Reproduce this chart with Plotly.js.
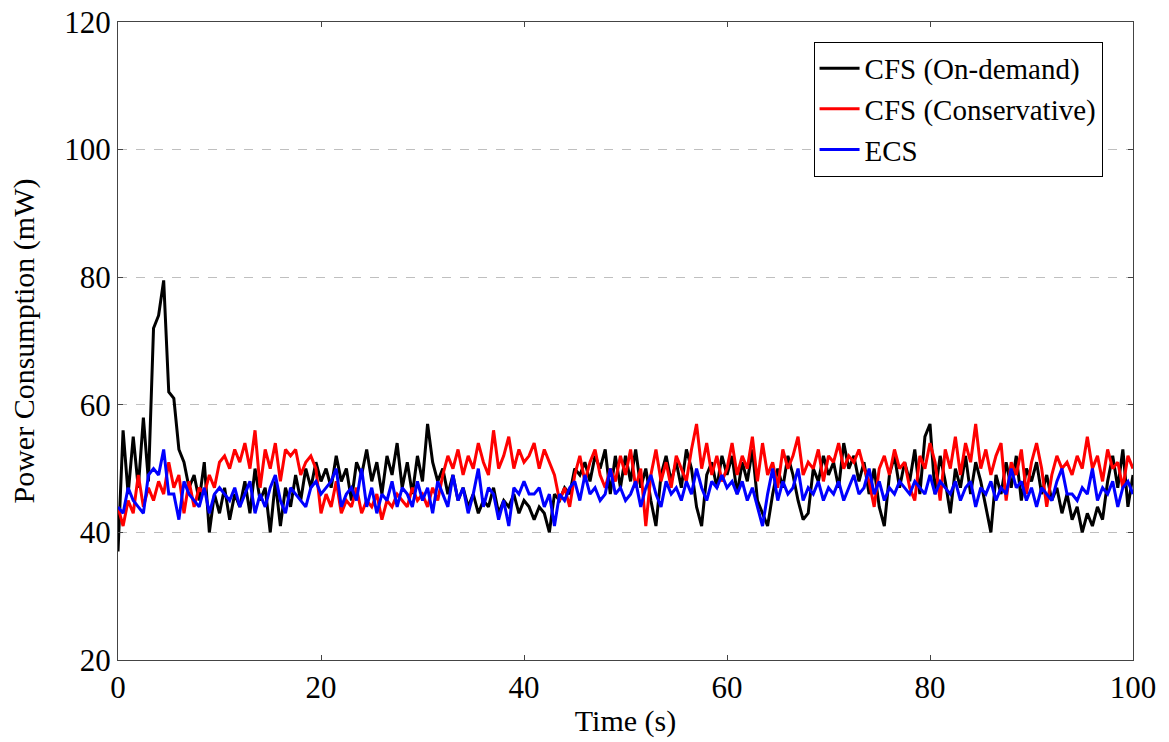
<!DOCTYPE html>
<html>
<head>
<meta charset="utf-8">
<script src="https://cdn.plot.ly/plotly-3.0.1.min.js"></script>
<style>
html,body{margin:0;padding:0;background:#fff;}
#chart{width:1169px;height:742px;}
</style>
</head>
<body>
<div id="chart"></div>
<script>
const timeStep = 0.5; // seconds between samples

const onDemand = [
37,56,46,55,47,58,48,72,74,79.5,62,61,53,51,47,49,45,51,40,46,
43,47,42,46,44,48,43,50,45,47,40,48,41,47,44,49,45,50,47,51,48,
50,47,52,48,50,45,51,49,53,48,51,46,52,49,54,47,51,46,52,48,
57,51,48,50,46,49,45,47,44,46,43,45,44,47,43,45,44,46,43,45,
44,42,44,43,40,46,45,47,46,50,49,51,48,52,50,53,46,52,47,52,
48,53,47,50,45,41,49,52,48,51,47,53,50,44,41,49,51,47,52,49,
52,46,51,48,53,45,43,41,46,50,47,52,49,45,42,43,50,48,52,49,
51,47,54,50,52,48,51,46,50,44,41,49,52,47,51,48,53,46,55,57,
46,52,48,43,50,47,52,46,51,48,44,40,49,46,51,47,52,45,50,48,
51,46,49,45,47,43,46,42,44,40,43,41,44,42,48,52,47,53,44,49
];

const conservative = [
44,41,45,43,49,44,47,45,48,46,51,47,49,43,48,44,47,46,49,47,
51,52,50,53,51,54,50,56,47,53,50,54,48,53,52,53,49,51,52,50,43,
46,44,48,43,45,44,47,43,45,44,46,42,45,44,46,45,44,47,45,46,
44,47,45,49,52,50,53,49,52,50,54,51,49,56,50,52,55,50,53,51,
52,54,50,53,51,49,45,47,44,49,52,48,51,53,49,47,50,48,52,49,
53,47,50,41,49,53,48,51,47,52,50,48,53,57,50,54,49,52,48,50,
54,49,52,50,55,48,54,49,51,47,53,50,52,55,49,51,50,53,48,52,
51,54,50,52,51,53,50,48,44,50,52,49,53,50,51,47,45,52,50,54,
51,45,53,50,55,49,54,51,57,50,53,49,52,54,45,51,49,53,46,51,
54,50,44,49,52,50,51,49,52,50,55,50,52,48,53,50,51,47,52,50
];

const ecs = [
44,43,47,45,44,43,49,50,49,53,46,46,42,48,46,45,44,47,43,46,
47,46,45,47,44,46,48,43,46,44,47,49,45,43,47,46,45,44,47,48,46,
47,48,50,44,46,47,45,50,44,47,43,46,45,48,44,47,46,44,48,45,
47,43,48,46,44,49,45,47,43,46,50,44,47,46,42,45,41,47,46,48,
46,46,47,44,46,41,46,45,47,48,45,49,46,47,45,46,50,46,47,45,
46,48,44,47,49,46,44,48,46,47,45,48,46,50,47,45,48,47,49,47,
48,46,48,45,47,44,41,46,50,45,48,46,47,50,45,47,46,48,45,47,
46,48,45,47,49,46,47,50,46,48,45,47,46,48,47,46,48,47,46,49,
46,48,47,46,48,45,47,48,44,47,46,48,45,47,46,50,47,48,45,47,
44,47,46,45,48,50,46,46,45,47,46,50,45,47,46,48,44,47,48,46
];

const seriesNames = ['CFS (On-demand)', 'CFS (Conservative)', 'ECS'];
const seriesColors = ['#000000', '#ff0000', '#0000ff'];
const xTicks = [0, 20, 40, 60, 80, 100];
const yTicks = [20, 40, 60, 80, 100, 120];

function times(n) { const t = []; for (let i = 0; i < n; i++) t.push(i * timeStep); return t; }

const all = [onDemand, conservative, ecs];
const traces = all.map((ys, k) => ({
  x: times(ys.length),
  y: ys,
  type: 'scatter',
  mode: 'lines',
  name: seriesNames[k],
  line: { color: seriesColors[k], width: 3 }
}));

const FAMILY = 'Liberation Serif, DejaVu Serif, serif';
function f(size) { return { family: FAMILY, size: size, color: '#000' }; }

const layout = {
  width: 1169, height: 742,
  margin: { l: 118, r: 36, t: 22, b: 82, pad: 0 },
  paper_bgcolor: '#fff', plot_bgcolor: '#fff',
  font: f(28),
  showlegend: true,
  legend: {
    x: 0.970, y: 0.969, xanchor: 'right', yanchor: 'top',
    bgcolor: '#fff', bordercolor: '#000', borderwidth: 1,
    font: f(29),
    tracegroupgap: 0, itemwidth: 40
  },
  xaxis: {
    range: [0, 100], tickvals: xTicks, ticktext: xTicks.map(String),
    showgrid: false, zeroline: false,
    showline: true, linecolor: '#444', linewidth: 1, mirror: 'ticks',
    ticks: 'inside', ticklen: 5, tickcolor: '#444',
    tickfont: f(31),
    title: { text: 'Time (s)', font: f(30), standoff: 5 }
  },
  yaxis: {
    range: [20, 120], tickvals: yTicks, ticktext: yTicks.map(String),
    showgrid: true, gridcolor: '#bfbfbf', griddash: 'dash', gridwidth: 1,
    zeroline: false,
    showline: true, linecolor: '#444', linewidth: 1, mirror: 'ticks',
    ticks: 'inside', ticklen: 5, tickcolor: '#444',
    tickfont: f(31),
    title: { text: 'Power Consumption (mW)', font: f(30), standoff: 20 }
  }
};

Plotly.newPlot('chart', traces, layout, { displayModeBar: false, staticPlot: true });
</script>
</body>
</html>
